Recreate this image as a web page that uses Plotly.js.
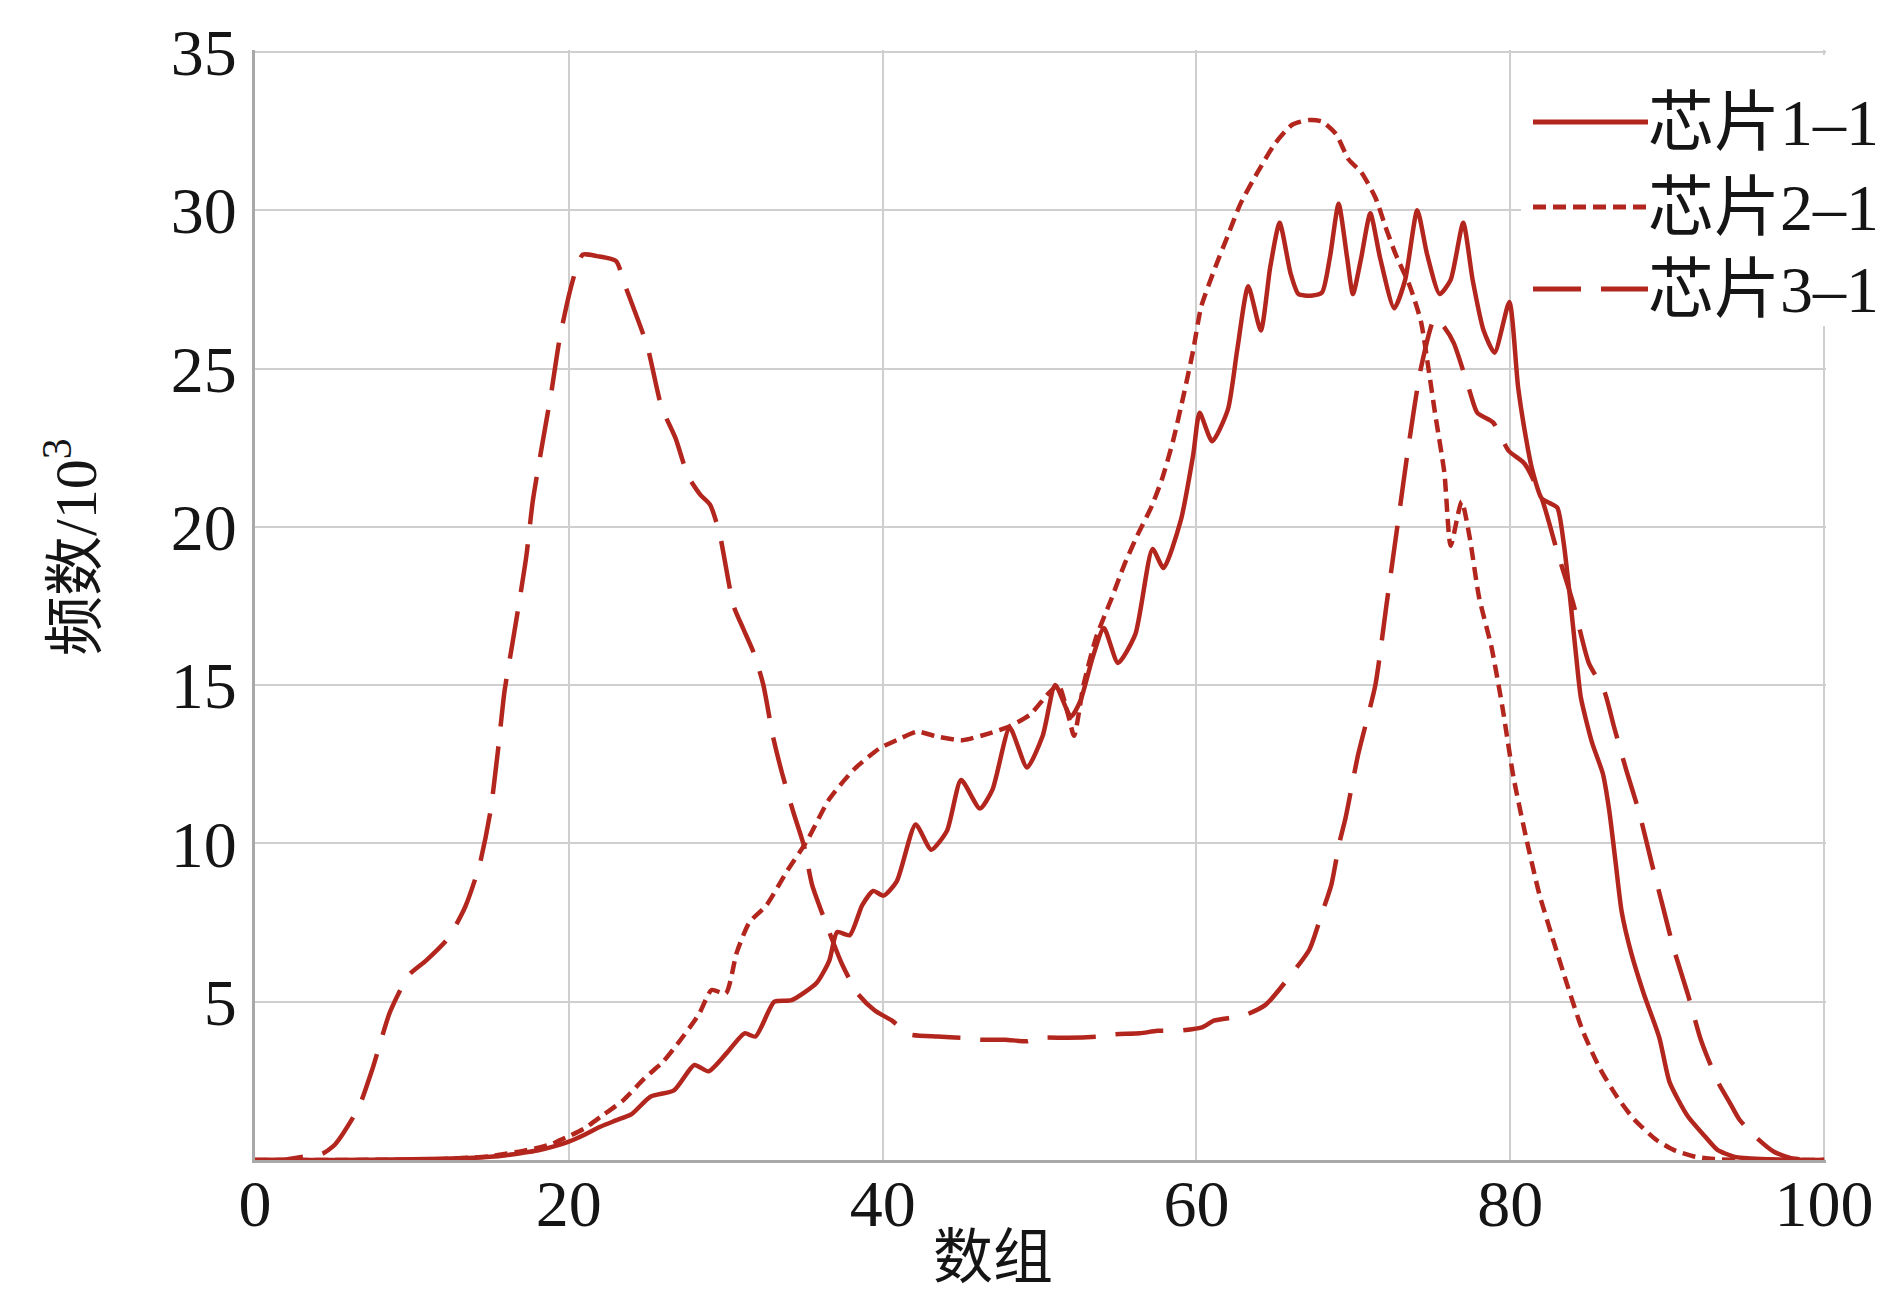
<!DOCTYPE html>
<html>
<head>
<meta charset="utf-8">
<script src="https://cdn.plot.ly/plotly-3.0.1.min.js"></script>
<style>html,body{margin:0;padding:0;background:#fff;}#chart{width:1890px;height:1291px;}</style>
</head>
<body>
<div id="chart"></div>
<script>
// ---- data ----
const seriesNames = ["芯片1–1", "芯片2–1", "芯片3–1"];

const chip1X = [0, 5, 10, 12, 14, 15, 16, 17, 18, 19, 20, 21, 22, 23, 24, 25.2, 26.7, 28.0, 28.9, 30.1, 31.2, 31.9, 33.1, 34.2, 35.8, 36.6, 37.1, 37.9, 38.7, 39.4, 40.05, 40.9, 42.1, 43.1, 44.1, 45.0, 46.2, 47.0, 48.1, 49.2, 50.2, 51.0, 52.0, 52.6, 53.4, 54.1, 55.0, 56.1, 57.2, 57.9, 59.0, 59.8, 60.2, 61.0, 62.0, 62.6, 63.3, 64.1, 64.7, 65.3, 66.0, 66.5, 67.3, 68.0, 68.5, 69.06, 69.6, 69.97, 70.5, 71.08, 71.7, 72.6, 73.3, 74.07, 74.7, 75.5, 76.2, 77.0, 77.6, 78.3, 79.0, 79.94, 80.5, 81.0, 81.4, 82.0, 82.5, 83.0, 83.4, 83.8, 84.2, 84.5, 85.2, 85.9, 86.3, 86.7, 87.1, 87.7, 88.5, 89.5, 90.15, 91.3, 92.4, 93.2, 94.3, 96, 98, 100];
const chip1Y = [0, 0, 0.02, 0.04, 0.07, 0.1, 0.15, 0.22, 0.3, 0.42, 0.58, 0.8, 1.05, 1.25, 1.45, 2.0, 2.2, 3.0, 2.8, 3.4, 4.0, 3.9, 5.0, 5.05, 5.6, 6.3, 7.2, 7.1, 8.05, 8.5, 8.35, 8.8, 10.6, 9.8, 10.4, 12.0, 11.1, 11.7, 13.65, 12.4, 13.4, 15.0, 14.0, 14.5, 15.9, 16.8, 15.7, 16.6, 19.3, 18.7, 20.2, 22.3, 23.6, 22.7, 23.7, 25.6, 27.6, 26.2, 28.2, 29.6, 28.0, 27.35, 27.3, 27.4, 28.5, 30.2, 28.5, 27.35, 28.5, 29.9, 28.5, 26.9, 27.8, 30.0, 28.6, 27.35, 27.8, 29.6, 27.8, 26.2, 25.5, 27.1, 24.4, 22.8, 21.8, 20.9, 20.75, 20.6, 19.5, 17.8, 15.9, 14.6, 13.2, 12.2, 11.06, 9.45, 7.84, 6.55, 5.26, 3.86, 2.46, 1.39, 0.75, 0.32, 0.1, 0.03, 0.01, 0];

const chip2X = [0, 10, 12, 14, 15, 16, 17, 18, 19, 19.4, 20, 21, 22.1, 23.5, 24.8, 26.0, 26.9, 28.3, 29.1, 30.0, 30.7, 31.5, 32.6, 33.9, 35.2, 36.6, 38.2, 39.8, 40.9, 42.2, 43.5, 45.1, 46.75, 48.1, 49.4, 50.5, 51.2, 51.8, 52.2, 52.8, 53.6, 54.6, 55.4, 56.3, 57.1, 57.8, 58.5, 59.2, 59.8, 60.3, 61.2, 62.0, 62.8, 63.9, 65.0, 66.1, 67.2, 68.0, 68.9, 69.7, 70.5, 71.4, 72.1, 72.7, 73.6, 74.3, 74.8, 75.2, 75.8, 76.2, 76.9, 77.4, 78.0, 78.8, 79.5, 80.2, 81.0, 81.85, 82.7, 83.65, 84.6, 85.7, 86.8, 87.9, 89.3, 90.4, 91.8, 93, 95, 100];
const chip2Y = [0, 0.01, 0.03, 0.08, 0.12, 0.2, 0.28, 0.38, 0.52, 0.62, 0.75, 1.0, 1.39, 1.9, 2.57, 3.1, 3.65, 4.61, 5.37, 5.26, 6.55, 7.5, 8.05, 9.12, 10.1, 11.4, 12.35, 13.0, 13.26, 13.53, 13.37, 13.26, 13.47, 13.7, 14.07, 14.7, 15.0, 14.1, 13.4, 15.0, 16.5, 17.75, 18.8, 19.8, 20.6, 21.5, 22.7, 24.2, 25.6, 26.95, 28.2, 29.2, 30.2, 31.2, 32.1, 32.7, 32.85, 32.8, 32.4, 31.6, 31.2, 30.4, 29.4, 28.6, 27.6, 26.5, 24.95, 23.6, 21.7, 19.4, 20.8, 19.7, 17.8, 16.2, 14.3, 12.1, 10.2, 8.4, 7.0, 5.5, 4.1, 2.9, 2.0, 1.28, 0.64, 0.32, 0.1, 0.03, 0, 0];

const chip3X = [0, 2, 3.6, 4.3, 5.1, 6.6, 7.5, 8.6, 9.8, 10.9, 12.3, 13.4, 14.3, 15.0, 15.5, 15.9, 16.4, 16.8, 17.3, 17.7, 18.2, 18.9, 19.4, 20.0, 20.5, 20.9, 21.8, 23.0, 23.6, 25.0, 25.9, 26.8, 27.6, 28.4, 29.0, 29.6, 30.5, 31.1, 31.8, 32.4, 33.0, 33.6, 34.3, 35.0, 35.5, 36.6, 37.4, 38.4, 39.5, 40.6, 41.7, 43.5, 45.1, 46.2, 47.8, 49.2, 50.0, 51.8, 53.7, 54.8, 56.4, 57.5, 58.8, 60.4, 61.1, 63.0, 64.4, 66.1, 67.2, 68.0, 68.6, 69.1, 69.5, 70.3, 71.4, 72.1, 72.8, 73.5, 74.3, 75.2, 75.8, 76.4, 77.4, 77.9, 78.9, 79.9, 80.9, 82.0, 83.0, 84.0, 85.0, 86.0, 86.6, 87.4, 88.2, 89.0, 89.7, 90.4, 91.3, 92.1, 92.6, 93.3, 94.0, 94.6, 95.7, 96.8, 98, 100];
const chip3Y = [0, 0.02, 0.15, 0.2, 0.49, 1.65, 2.9, 4.67, 5.84, 6.3, 7.0, 8.0, 9.3, 11.0, 13.0, 14.8, 16.3, 17.5, 19.1, 20.8, 22.3, 24.3, 25.9, 27.3, 28.2, 28.6, 28.55, 28.4, 27.6, 25.7, 23.8, 22.8, 21.6, 21.0, 20.7, 19.8, 17.5, 16.8, 16.0, 15.0, 13.4, 12.2, 11.0, 9.9, 8.7, 7.2, 6.2, 5.26, 4.72, 4.4, 3.97, 3.9, 3.86, 3.8, 3.8, 3.75, 3.86, 3.86, 3.9, 3.97, 4.0, 4.08, 4.08, 4.2, 4.4, 4.56, 4.9, 5.9, 6.65, 7.8, 8.7, 10.0, 10.8, 12.8, 15.0, 17.5, 20.0, 22.5, 25.0, 26.6, 26.3, 25.8, 24.3, 23.6, 23.3, 22.4, 22.0, 20.9, 19.2, 17.6, 15.7, 14.8, 13.7, 12.3, 11.0, 9.4, 8.05, 6.7, 5.26, 3.86, 3.2, 2.4, 1.8, 1.28, 0.7, 0.26, 0.05, 0];

const xTickVals = [0, 20, 40, 60, 80, 100];
const yTickVals = [5, 10, 15, 20, 25, 30, 35];
const xTitle = "数组";
const yTitle = "频数/10<sup>3</sup>";

// ---- styling ----
const RED = "#b3261e";
const LW = 4.5;
const dashes = ["solid", "13px,7px", "48px,20px"];
const FONT = "'Liberation Serif', 'Times New Roman', 'Noto Sans CJK SC', serif";

const xs = [chip1X, chip2X, chip3X];
const ys = [chip1Y, chip2Y, chip3Y];
const traces = seriesNames.map((n, i) => ({
  type: "scatter", mode: "lines", name: n,
  x: xs[i], y: ys[i],
  line: {color: RED, width: LW, dash: dashes[i], shape: "spline", smoothing: 0.6},
  showlegend: false, hoverinfo: "skip"
}));

// plot-area geometry helpers for the hand-built legend (paper coords)
const L = 255, R = 64, T = 50, B = 131;
const W = 1890 - L - R, H = 1291 - T - B;
const px = v => (v - L) / W;
const py = v => (1291 - B - v) / H;

const legendRows = [122, 207, 289];
const shapes = [
  {type: "rect", xref: "paper", yref: "paper", x0: px(1521), x1: px(1890), y0: py(326), y1: py(55),
   fillcolor: "#ffffff", line: {width: 0}, layer: "above"}
];
const annotations = [];
legendRows.forEach((yy, i) => {
  shapes.push({type: "line", xref: "paper", yref: "paper", x0: px(1533), x1: px(1648), y0: py(yy), y1: py(yy),
    line: {color: RED, width: LW + 0.5, dash: dashes[i]}, layer: "above"});
  annotations.push({xref: "paper", yref: "paper", x: px(1646), y: py(yy), xanchor: "left", yanchor: "middle",
    text: seriesNames[i], showarrow: false, font: {family: FONT, size: 66, color: "#151515"}});
});
annotations.push({xref: "paper", yref: "paper", x: px(993), y: py(1258), xanchor: "center", yanchor: "middle",
  text: xTitle, showarrow: false, font: {family: FONT, size: 60, color: "#151515"}});
annotations.push({xref: "paper", yref: "paper", x: px(71), y: py(547), xanchor: "center", yanchor: "middle",
  text: yTitle, textangle: -90, showarrow: false, font: {family: FONT, size: 60, color: "#151515"}});

const layout = {
  width: 1890, height: 1291,
  margin: {l: L, r: R, t: T, b: B, pad: 0},
  paper_bgcolor: "#ffffff", plot_bgcolor: "#ffffff",
  showlegend: false,
  font: {family: FONT, color: "#151515"},
  xaxis: {
    range: [0, 100.12], tickvals: xTickVals, ticktext: xTickVals.map(String),
    showgrid: true, gridcolor: "#cfcfcf", gridwidth: 2,
    showline: true, linecolor: "#a8a8a8", linewidth: 3,
    zeroline: false, ticks: "", ticklabelstandoff: -16,
    tickfont: {family: FONT, size: 66, color: "#151515"},
    fixedrange: true
  },
  yaxis: {
    range: [0, 35.06], tickvals: yTickVals, ticktext: yTickVals.map(String),
    showgrid: true, gridcolor: "#cfcfcf", gridwidth: 2,
    showline: true, linecolor: "#a8a8a8", linewidth: 3,
    zeroline: false, ticks: "", ticklabelstandoff: 2,
    tickfont: {family: FONT, size: 66, color: "#151515"},
    fixedrange: true
  },
  shapes: shapes,
  annotations: annotations
};

Plotly.newPlot("chart", traces, layout, {displayModeBar: false, staticPlot: true});
</script>
</body>
</html>
